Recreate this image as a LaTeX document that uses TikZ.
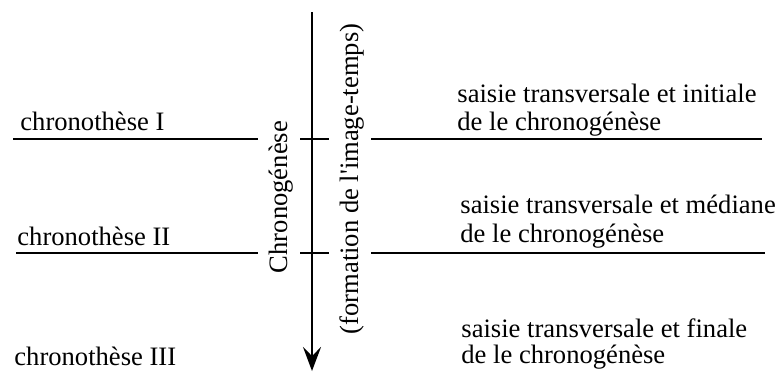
\documentclass[tikz,border=0pt]{standalone}
\usepackage{fontspec}
\setmainfont{Liberation Serif}
\usetikzlibrary{arrows.meta}

\tikzset{
	label text/.style={inner sep=0pt, anchor=base west, font=\fontsize{13.3}{15}\selectfont},
	axis text/.style={inner sep=0pt, rotate=90, font=\fontsize{13.3}{15}\selectfont},
	cut line/.style={line width=1pt}
}

\begin{document}
\begin{tikzpicture}[x=0.5pt, y=-0.5pt]
		\useasboundingbox (0, 0) rectangle (779, 372);
		
		% Time axis
		\coordinate (top) at (312, 12);
		\coordinate (bottom) at (312, 371);
		\draw[line width=1pt, -{Stealth[length=12pt, width=9pt, inset=4.5pt]}] (top) -- (bottom);
		\node[axis text] (chrono) at (281, 197) {Chronogénèse};
		\node[axis text] (formation) at (352, 179) {(formation de l\textquotesingle image-temps)};
		
		% Chronotheses
		\draw[cut line] (13, 139) -- (258, 139);
		\draw[cut line] (300, 139) -- (329, 139);
		\draw[cut line] (371, 139) -- (762, 139);
		\draw[cut line] (16, 253) -- (258, 253);
		\draw[cut line] (300, 253) -- (329, 253);
		\draw[cut line] (371, 253) -- (765, 253);
		
		\node[label text] (ch1) at (20, 130) {chronothèse I};
		\node[label text] (ch2) at (17, 245) {chronothèse II};
		\node[label text] (ch3) at (14, 365) {chronothèse III};
		
		% Transversal cuts
		\node[label text] (initial) at (457, 102) {saisie transversale et initiale};
		\node[label text] (initial2) at (457, 130) {de le chronogénèse};
		\node[label text] (median) at (460, 213) {saisie transversale et médiane};
		\node[label text] (median2) at (460, 242) {de le chronogénèse};
		\node[label text] (final) at (461, 337) {saisie transversale et finale};
		\node[label text] (final2) at (461, 363) {de le chronogénèse};
	\end{tikzpicture}
\end{document}
